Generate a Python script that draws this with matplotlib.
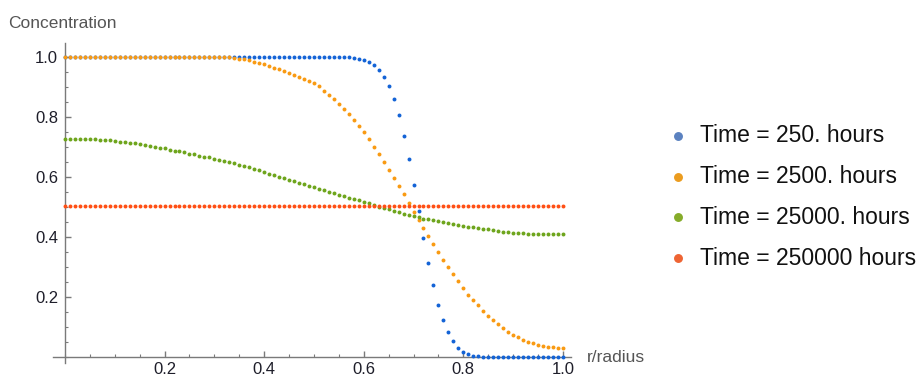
import numpy as np
import matplotlib
matplotlib.use("Agg")
import matplotlib.pyplot as plt
from matplotlib.lines import Line2D
from matplotlib.ticker import MultipleLocator, FixedLocator

plt.rcParams['font.family'] = ['Liberation Sans', 'DejaVu Sans']

r = np.round(np.arange(0, 101) / 100, 2)

conc_250 = [1.0] * 58 + [
    0.998, 0.995, 0.990, 0.984, 0.975, 0.958, 0.935, 0.903, 0.860, 0.807,
    0.738, 0.660, 0.575, 0.486, 0.396, 0.315, 0.239, 0.174, 0.123, 0.083,
    0.052, 0.031, 0.017, 0.009, 0.004, 0.002, 0.001] + [0.0] * 16

conc_2500 = [1.0] * 34 + [
    0.998, 0.996, 0.993, 0.990, 0.986, 0.981, 0.977, 0.972, 0.966, 0.960,
    0.954, 0.948, 0.942, 0.936, 0.928, 0.921, 0.913, 0.903, 0.889, 0.875,
    0.860, 0.845, 0.828, 0.810, 0.790, 0.771, 0.750, 0.726, 0.700, 0.677,
    0.651, 0.624, 0.598, 0.571, 0.544, 0.513, 0.485, 0.458, 0.431, 0.404,
    0.377, 0.350, 0.324, 0.299, 0.277, 0.253, 0.230, 0.208, 0.190, 0.172,
    0.155, 0.137, 0.123, 0.109, 0.096, 0.085, 0.074, 0.066, 0.058, 0.051,
    0.046, 0.041, 0.038, 0.035, 0.032, 0.030, 0.029]

conc_25000 = [
    0.728, 0.728, 0.728, 0.727, 0.727, 0.727, 0.726, 0.725, 0.724, 0.723,
    0.721, 0.719, 0.717, 0.715, 0.713, 0.710, 0.708, 0.705, 0.702, 0.699,
    0.696, 0.692, 0.689, 0.686, 0.683, 0.679, 0.676, 0.672, 0.669, 0.666,
    0.662, 0.658, 0.654, 0.650, 0.646, 0.642, 0.638, 0.633, 0.628, 0.623,
    0.617, 0.612, 0.606, 0.600, 0.596, 0.592, 0.587, 0.582, 0.576, 0.571,
    0.566, 0.561, 0.556, 0.551, 0.546, 0.541, 0.536, 0.532, 0.528, 0.523,
    0.518, 0.513, 0.508, 0.502, 0.498, 0.494, 0.488, 0.483, 0.478, 0.474,
    0.470, 0.466, 0.462, 0.459, 0.456, 0.454, 0.451, 0.447, 0.444, 0.441,
    0.438, 0.435, 0.433, 0.431, 0.428, 0.426, 0.423, 0.420, 0.418, 0.416,
    0.415, 0.414, 0.413, 0.412, 0.411, 0.410, 0.410, 0.410, 0.410, 0.410,
    0.410]

conc_250000 = [0.503] * 101

labels = ["Time = 250. hours", "Time = 2500. hours",
          "Time = 25000. hours", "Time = 250000 hours"]
series = [conc_250, conc_2500, conc_25000, conc_250000]
dot_colors = ["#1363d6", "#f99a12", "#6ea51c", "#ff4f14"]
legend_colors = ["#5b82c0", "#eb9c1f", "#86ac2a", "#ee6433"]

W, H = 919, 377
fig = plt.figure(figsize=(W / 100, H / 100), dpi=100)
ax = fig.add_axes([53 / W, 14 / H, 518.4 / W, 320 / H])

for ys, c in zip(series, dot_colors):
    ax.scatter(r, ys, s=8, color=c, linewidths=0, zorder=3, clip_on=False)

ax.set_xlim(-0.024, 1.017)
ax.set_ylim(-0.02, 1.048)

for side in ("top", "right"):
    ax.spines[side].set_visible(False)
ax.spines["left"].set_position(("data", 0))
ax.spines["bottom"].set_position(("data", 0))
axis_col = "#7a7a7a"
for side in ("left", "bottom"):
    ax.spines[side].set_color(axis_col)
    ax.spines[side].set_linewidth(1.0)

ax.xaxis.set_major_locator(FixedLocator([0.2, 0.4, 0.6, 0.8, 1.0]))
ax.yaxis.set_major_locator(FixedLocator([0.2, 0.4, 0.6, 0.8, 1.0]))
ax.xaxis.set_minor_locator(MultipleLocator(0.05))
ax.yaxis.set_minor_locator(MultipleLocator(0.05))
ax.set_xticklabels(["0.2", "0.4", "0.6", "0.8", "1.0"])
ax.set_yticklabels(["0.2", "0.4", "0.6", "0.8", "1.0"])
ax.tick_params(which="major", direction="in", length=4, width=1, color=axis_col,
               labelsize=12, labelcolor="#1e1e2a")
ax.tick_params(which="minor", direction="in", length=2.2, width=0.8, color=axis_col)
ax.tick_params(axis="x", which="major", pad=3.5)
ax.tick_params(axis="y", which="major", pad=5)

fig.text(8 / W, 1 - 23 / H, "Concentration", fontsize=12.5, color="#555555",
         va="center", ha="left")
fig.text(587 / W, 1 - 357 / H, "r/radius", fontsize=12.5, color="#555555",
         va="center", ha="left")

for i, (lab, c) in enumerate(zip(labels, legend_colors)):
    ypx = 136 + i * 40.7
    fig.add_artist(Line2D([678 / W], [1 - ypx / H], marker="o", ms=5.4,
                          color=c, linestyle="none", transform=fig.transFigure))
    fig.text(700 / W, 1 - ypx / H, lab, fontsize=16.5, color="#111111",
             va="center", ha="left")

fig.savefig("out.png", dpi=100)
